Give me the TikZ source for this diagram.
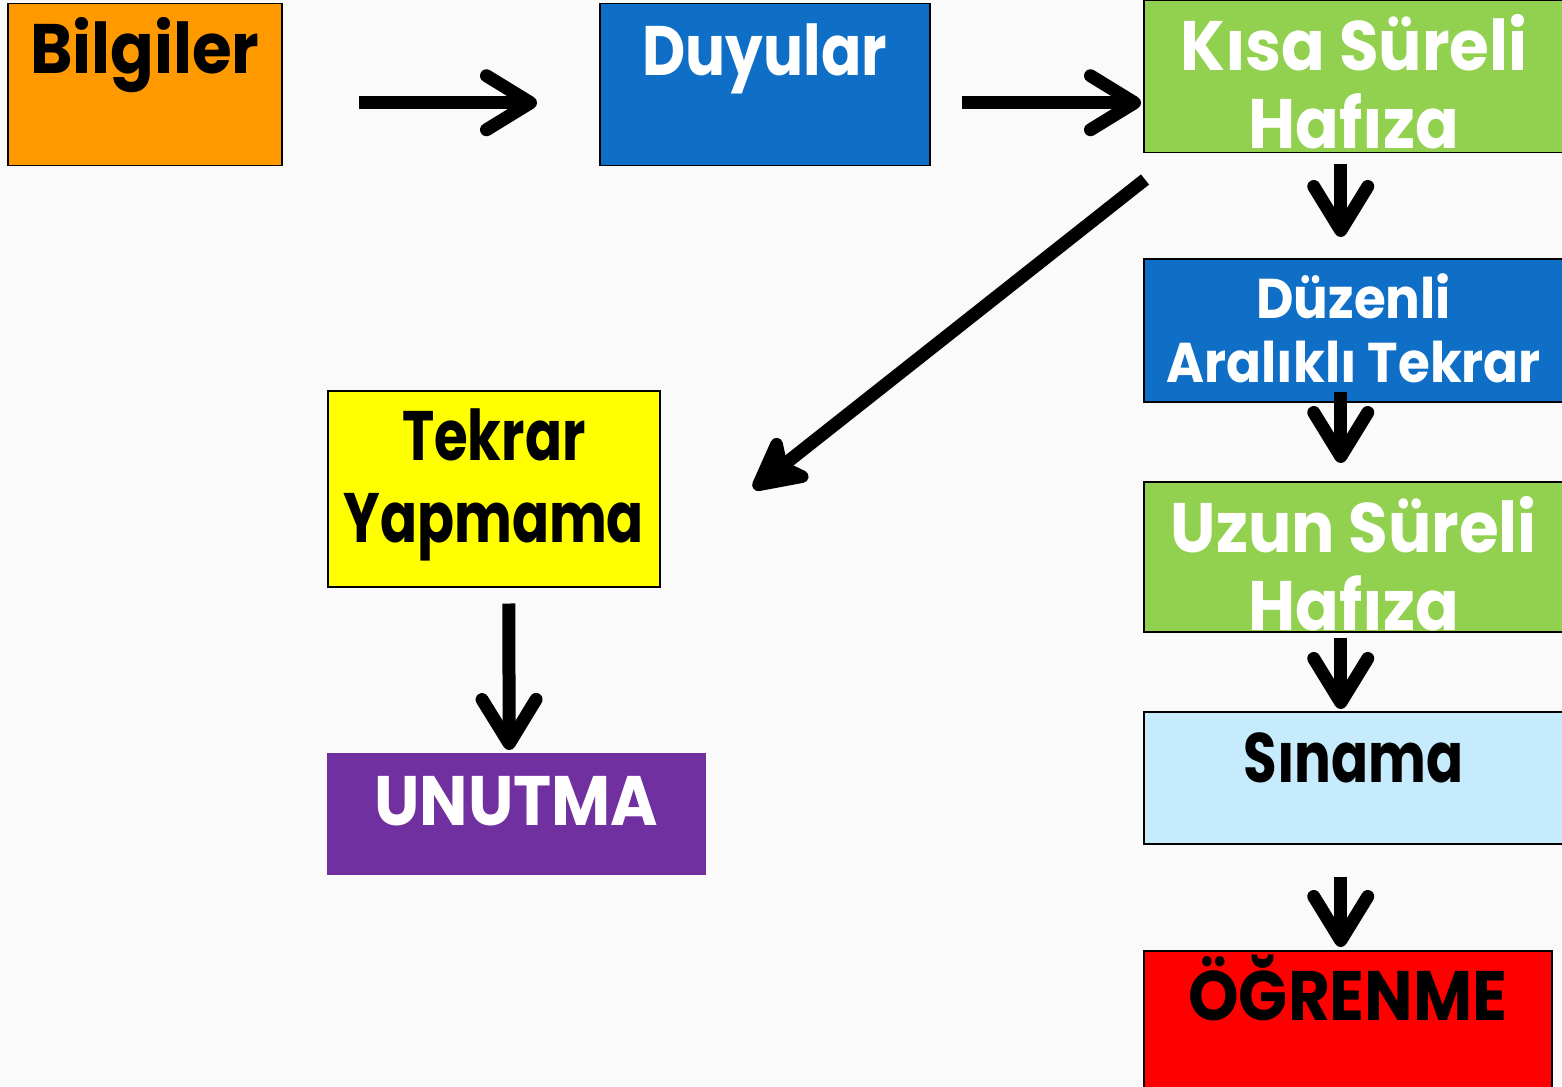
\documentclass[tikz,border=0pt]{standalone}
\usepackage{fontspec}
\setmainfont{Poppins}[FakeStretch=0.92]
\newfontfamily\ortafont{Poppins}[FakeStretch=0.85]
\newfontfamily\darfont{Poppins}[FakeStretch=0.78]
\usetikzlibrary{arrows.meta,calc}
\definecolor{turuncu}{HTML}{FF9900}
\definecolor{mavi}{HTML}{0F6FC6}
\definecolor{yesil}{HTML}{92D050}
\definecolor{sari}{HTML}{FFFF00}
\definecolor{mor}{HTML}{7030A0}
\definecolor{acikmavi}{HTML}{C6EBFC}
\definecolor{kirmizi}{HTML}{FF0000}
\tikzset{
	kutu/.style={draw=black, line width=1.5pt, inner sep=0pt, anchor=north west},
	ok/.style={line width=13pt, -{Straight Barb[length=44pt,width=54pt,round]}},
	okcapraz/.style={line width=13pt, -{Stealth[length=66pt,width=68pt,inset=16pt,round,fill=black]}},
	buyuk/.style={font=\fontsize{70}{78}\selectfont\bfseries},
}
% box text: width, height, first baseline, text
\newcommand{\kutuyazi}[4]{\parbox[c][#2][t]{#1}{\centering\rule{0pt}{#3}#4}}

\begin{document}
\begin{tikzpicture}[x=1pt, y=-1pt]
			%%%%% START %%%%%
			
			\useasboundingbox (0, 0) rectangle (1562, 1086);
			\clip (0, 0) rectangle (1562, 1086);
			\fill[black!2] (0, 0) rectangle (1562, 1086);
			
			\node[kutu, buyuk, fill=turuncu] (bilgi) at (7, 3) {\kutuyazi{274pt}{162pt}{70pt}{Bilgiler}};
			\node[kutu, fill=mavi, text=white, font=\ortafont\fontsize{70}{78}\selectfont\bfseries] (duyu) at (599, 3) {\kutuyazi{330pt}{162pt}{72pt}{Duyular}};
			\node[kutu, buyuk, fill=yesil, text=white] (kisa) at (1143, 0) {\kutuyazi{420pt}{152pt}{70pt}{Kısa Süreli\\Hafıza}};
			\node[kutu, fill=mavi, text=white, font=\fontsize{56}{64}\selectfont\bfseries] (duzen) at (1143, 258) {\kutuyazi{420pt}{143pt}{60pt}{Düzenli\\Aralıklı Tekrar}};
			\node[kutu, fill=sari, font=\darfont\fontsize{70}{82}\selectfont\bfseries] (tekrar) at (327, 390) {\kutuyazi{332pt}{196pt}{70pt}{Tekrar\\Yapmama}};
			\node[kutu, buyuk, fill=yesil, text=white] (uzun) at (1143, 481) {\kutuyazi{420pt}{150pt}{71pt}{Uzun Süreli\\Hafıza}};
			\node[kutu, fill=acikmavi, font=\darfont\fontsize{70}{78}\selectfont\bfseries] (sinama) at (1143, 711) {\kutuyazi{420pt}{132pt}{71pt}{Sınama}};
			\node[kutu, buyuk, draw=none, fill=mor, text=white] (unut) at (326, 752) {\kutuyazi{379pt}{122pt}{73pt}{UNUTMA}};
			\node[kutu, buyuk, fill=kirmizi] (ogren) at (1143, 950) {\kutuyazi{408pt}{140pt}{70pt}{ÖĞRENME}};
			
			\draw[ok] ([xshift=76pt, yshift=-18pt]bilgi.east) -- ([xshift=-62pt, yshift=-18pt]duyu.west);
			\draw[ok] ([xshift=31pt, yshift=-18pt]duyu.east) -- ([xshift=-2pt, yshift=-26pt]kisa.west);
			\draw[okcapraz] ([xshift=2pt, yshift=-26pt]kisa.south west) -- ([xshift=93pt]tekrar.east);
			
			\draw[ok] ([xshift=-13pt, yshift=-11pt]kisa.south) -- ([xshift=-13pt, yshift=21pt]duzen.north);
			\draw[ok] ([xshift=-13pt, yshift=11pt]duzen.south) -- ([xshift=-13pt, yshift=18pt]uzun.north);
			\draw[ok] ([xshift=-13pt, yshift=-5pt]uzun.south) -- ([xshift=-13pt, yshift=2pt]sinama.north);
			\draw[ok] ([xshift=-13pt, yshift=-32pt]sinama.south) -- ([xshift=-7pt, yshift=3pt]ogren.north);
			
			\draw[ok] ([xshift=15pt, yshift=-16pt]tekrar.south) -- ([xshift=-7pt, yshift=2pt]unut.north);
			
			%%%%% END %%%%%
\end{tikzpicture}
\end{document}
